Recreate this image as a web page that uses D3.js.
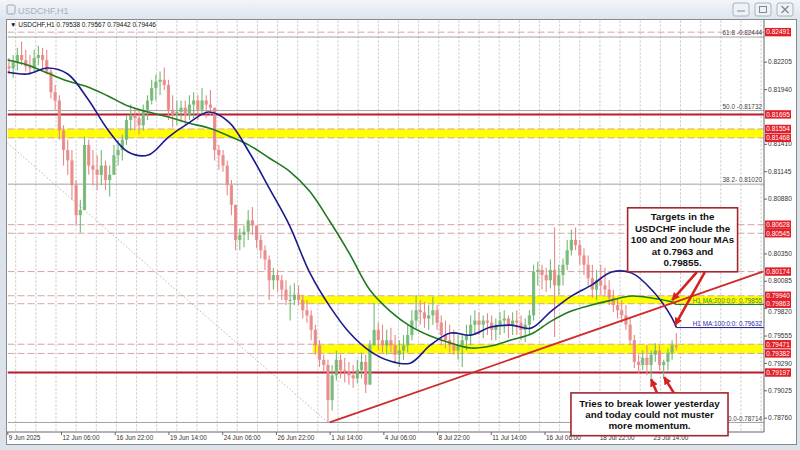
<!DOCTYPE html>
<html><head><meta charset="utf-8">
<script src="https://cdn.jsdelivr.net/npm/d3@7"></script>
<style>
body{margin:0;background:#dfe5ec;}
svg{display:block;font-family:"Liberation Sans",Arial,sans-serif;}
</style></head><body>
<svg id="c" width="800" height="450"></svg>
<script>
// ---------- DATA ----------
const windowTitle = "USDCHF,H1";
const infoText = "\u25BC USDCHF,H1  0.79538 0.79567 0.79442 0.79446";
const dateLabels = ["9 Jun 2025","12 Jun 06:00","16 Jun 22:00","19 Jun 14:00","24 Jun 06:00","26 Jun 22:00","1 Jul 14:00","4 Jul 06:00","8 Jul 22:00","11 Jul 14:00","16 Jul 06:00","18 Jul 22:00","23 Jul 14:00"];
const dateLabelBars = [0,64,128,192,256,320,384,448,512,576,640,704,768];
const priceTicks = [0.82205,0.81940,0.81410,0.81145,0.80880,0.80350,0.80085,0.79820,0.79555,0.79290,0.79025,0.78760];

const barsPerCandle = 5;
const firstOpen = 0.8216;
const candleHigh = [
0.8224,0.8227,0.8234,0.8240,0.8232,0.8227,0.8232,0.8236,0.8234,0.8232,
0.8214,0.8198,0.8188,0.8159,0.8145,0.8135,0.8106,0.8087,0.8148,0.8145,
0.8135,0.8130,0.8135,0.8125,0.8120,0.8140,0.8145,0.8150,0.8169,0.8179,
0.8176,0.8174,0.8179,0.8188,0.8203,0.8208,0.8211,0.8215,0.8203,0.8188,
0.8183,0.8183,0.8183,0.8188,0.8191,0.8188,0.8195,0.8188,0.8193,0.8176,
0.8140,0.8135,0.8125,0.8106,0.8082,0.8059,0.8062,0.8077,0.8080,0.8062,
0.8053,0.8043,0.8033,0.8021,0.8019,0.8014,0.8009,0.8004,0.8006,0.8004,
0.7995,0.7990,0.7980,0.7966,0.7951,0.7937,0.7932,0.7927,0.7941,0.7937,
0.7934,0.7930,0.7927,0.7932,0.7939,0.7937,0.7951,0.7987,0.7968,0.7966,
0.7961,0.7963,0.7956,0.7951,0.7956,0.7966,0.7980,0.7995,0.7990,0.7988,
0.7985,0.7993,0.7985,0.7975,0.7970,0.7966,0.7961,0.7956,0.7956,0.7966,
0.7975,0.7980,0.7978,0.7975,0.7977,0.7975,0.7972,0.7978,0.7980,0.7975,
0.7978,0.7980,0.7975,0.7972,0.7980,0.8024,0.8027,0.8024,0.8021,0.8029,
0.8060,0.8024,0.8030,0.8048,0.8058,0.8060,0.8048,0.8040,0.8033,0.8024,
0.8019,0.8024,0.8021,0.8009,0.8000,0.7992,0.7990,0.7985,0.7972,0.7956,
0.7937,0.7941,0.7946,0.7941,0.7948,0.7946,0.7932,0.7943,0.7951,0.7958];
const candleLow = [
0.8208,0.8205,0.8212,0.8217,0.8211,0.8208,0.8211,0.8217,0.8214,0.8208,
0.8185,0.8174,0.8145,0.8120,0.8111,0.8087,0.8062,0.8055,0.8082,0.8111,
0.8101,0.8096,0.8101,0.8096,0.8090,0.8111,0.8120,0.8125,0.8140,0.8154,
0.8154,0.8150,0.8154,0.8164,0.8179,0.8183,0.8188,0.8193,0.8164,0.8157,
0.8159,0.8162,0.8159,0.8164,0.8166,0.8164,0.8169,0.8166,0.8169,0.8125,
0.8116,0.8114,0.8091,0.8072,0.8038,0.8038,0.8041,0.8048,0.8053,0.8040,
0.8030,0.8019,0.7990,0.8000,0.7998,0.7990,0.7985,0.7970,0.7985,0.7985,
0.7972,0.7968,0.7951,0.7937,0.7925,0.7920,0.78714,0.7883,0.7912,0.7914,
0.7910,0.7908,0.7905,0.7909,0.7914,0.7900,0.7908,0.7946,0.7941,0.7939,
0.7937,0.7939,0.7930,0.7925,0.7932,0.7939,0.7951,0.7961,0.7966,0.7963,
0.7961,0.7966,0.7961,0.7946,0.7943,0.7939,0.7937,0.7932,0.7925,0.7941,
0.7946,0.7956,0.7956,0.7953,0.7956,0.7951,0.7951,0.7956,0.7958,0.7953,
0.7956,0.7956,0.7951,0.7949,0.7956,0.7970,0.8004,0.8000,0.7998,0.8001,
0.7954,0.7995,0.8004,0.8019,0.8033,0.8038,0.8024,0.8014,0.8004,0.7992,
0.7990,0.7995,0.7993,0.7985,0.7978,0.7972,0.7968,0.7961,0.7946,0.7924,
0.7919,0.7922,0.7917,0.7912,0.7930,0.7922,0.7914,0.7922,0.7932,0.7941];
const candleClose = [
0.8214,0.8220,0.8227,0.8222,0.8216,0.8214,0.8224,0.8227,0.8222,0.8211,
0.8191,0.8183,0.8154,0.8135,0.8125,0.8101,0.8072,0.8077,0.8140,0.8120,
0.8116,0.8111,0.8120,0.8106,0.8111,0.8130,0.8135,0.8145,0.8164,0.8169,
0.8166,0.8159,0.8174,0.8183,0.8195,0.8201,0.8203,0.8198,0.8174,0.8169,
0.8172,0.8176,0.8169,0.8179,0.8183,0.8174,0.8183,0.8179,0.8176,0.8135,
0.8130,0.8120,0.8101,0.8082,0.8048,0.8053,0.8056,0.8067,0.8062,0.8048,
0.8038,0.8029,0.8009,0.8014,0.8009,0.8000,0.7990,0.7990,0.7995,0.7990,
0.7980,0.7975,0.7961,0.7946,0.7932,0.7927,0.7893,0.7917,0.7932,0.7922,
0.7920,0.7917,0.7914,0.7922,0.7930,0.7908,0.7946,0.7961,0.7951,0.7946,
0.7951,0.7946,0.7937,0.7941,0.7946,0.7956,0.7970,0.7980,0.7978,0.7972,
0.7975,0.7980,0.7968,0.7956,0.7951,0.7946,0.7941,0.7946,0.7951,0.7956,
0.7966,0.7970,0.7966,0.7970,0.7968,0.7961,0.7966,0.7970,0.7972,0.7966,
0.7970,0.7968,0.7961,0.7966,0.7975,0.8017,0.8019,0.8014,0.8009,0.8019,
0.8004,0.8014,0.8024,0.8038,0.8048,0.8043,0.8033,0.8024,0.8011,0.8000,
0.8009,0.8004,0.8000,0.7992,0.7985,0.7980,0.7975,0.7966,0.7951,0.7930,
0.7927,0.7934,0.7927,0.7937,0.7941,0.7927,0.7930,0.7939,0.7946,0.79446];

// moving averages sampled once a day (every 24 bars) + last bar
const maBars = [0,24,48,72,96,120,144,168,192,216,240,264,288,312,336,360,384,408,432,456,480,504,528,552,576,600,624,648,672,696,720,744,768,792,797];
const ma100 = [0.82105,0.82086,0.82144,0.82086,0.81844,0.81544,0.81331,0.81302,0.81476,0.81611,0.81718,0.81621,0.81331,0.80982,0.80624,0.80169,0.79840,0.79579,0.79404,0.79308,0.79288,0.79462,0.79579,0.79559,0.79637,0.79656,0.79627,0.79792,0.79937,0.80043,0.80169,0.80159,0.79995,0.79724,0.79632];
const ma200 = [0.82221,0.82173,0.82095,0.82018,0.81960,0.81873,0.81776,0.81718,0.81670,0.81611,0.81563,0.81486,0.81398,0.81273,0.81147,0.80953,0.80663,0.80343,0.79995,0.79792,0.79646,0.79550,0.79482,0.79434,0.79453,0.79511,0.79569,0.79695,0.79792,0.79850,0.79898,0.79937,0.79917,0.79879,0.79855];
const ma100Label = "H1 MA:100:0:0: 0.79632";
const ma200Label = "H1 MA:200:0:0: 0.79855";

const redLevels = [0.81695, 0.79197];
const dashedLevels = [0.82491, 0.80628, 0.80545, 0.80174, 0.81554, 0.81468, 0.79940, 0.79863, 0.79471, 0.79382];
const boxLevels = [0.82491,0.81695,0.81554,0.81468,0.80628,0.80545,0.80174,0.79940,0.79863,0.79471,0.79382,0.79197];
const bandTop = [0.81554, 0.79940, 0.79471];
const bandBottom = [0.81468, 0.79863, 0.79382];
const bandStartBar = [0, 349, 364];
const fibPrices = [0.82444, 0.81732, 0.81020, 0.78714];
const fibTexts = ["61.8 -0.82444", "50.0 -0.81732", "38.2- 0.81020", "0.0-0.78714"];
const fibDiagonal = [[0, 0.8142], [382, 0.78714]];
const trendLine = [[384, 0.78714], [900, 0.80174]];

const topNote = ["Targets in the","USDCHF include the","100 and 200 hour MAs","at 0.7963 and","0.79855."];
const topNoteBox = {bars:[739, 870], prices:[0.80791, 0.80172]};
const topArrows = [[[821.5,0.80169],[792,0.79898]], [[831,0.80169],[795.5,0.79656]]];
const bottomNote = ["Tries to break lower yesterday","and today could not muster","more momentum."];
const bottomNoteBox = {bars:[671.5, 858.6], prices:[0.79000, 0.78586]};
const bottomArrows = [[[774,0.79000],[767,0.79133]], [[794,0.79000],[782.5,0.79153]]];

// ---------- SCALES ----------
const svg = d3.select("#c");
const PL = 7.5, PR = 764, PT = 20.5, PB = 432;
const x = d3.scaleLinear().domain([0, 900]).range([7.3, 7.3 + 900 * 0.8394]);
const y = d3.scaleLinear().domain([0.78760, 0.82205]).range([417.7, 61.7]);

// ---------- WINDOW CHROME ----------
const defs = svg.append("defs");
const tg = defs.append("linearGradient").attr("id","tb").attr("x1",0).attr("y1",0).attr("x2",0).attr("y2",1);
tg.append("stop").attr("offset","0%").attr("stop-color","#f2f5f9");
tg.append("stop").attr("offset","100%").attr("stop-color","#dde5ee");
svg.append("rect").attr("width",800).attr("height",450).attr("fill","#dbe2ea");
svg.append("rect").attr("width",800).attr("height",20).attr("fill","url(#tb)");
svg.append("rect").attr("x",7).attr("y",5).attr("width",8).attr("height",9).attr("rx",1.5).attr("fill","none").attr("stroke","#9aa6b2");
svg.append("text").attr("x",18).attr("y",14).attr("font-size",9).attr("fill","#a7b0ba").text(windowTitle);
const btnX = [733, 755, 777];
btnX.forEach((bx,i)=>{
  svg.append("rect").attr("x",bx).attr("y",3).attr("width",16).attr("height",13).attr("rx",2).attr("fill","#eef2f6").attr("stroke","#a9b4bf");
});
svg.append("line").attr("x1",737).attr("x2",745).attr("y1",11).attr("y2",11).attr("stroke","#7d8894");
svg.append("rect").attr("x",759.5).attr("y",6.5).attr("width",7).attr("height",6).attr("fill","none").attr("stroke","#7d8894");
svg.append("path").attr("d","M781.5,6L788.5,13M788.5,6L781.5,13").attr("stroke","#7d8894").attr("stroke-width",1.3);

svg.append("rect").attr("x",6.5).attr("y",19.5).attr("width",790).attr("height",425).attr("fill","#fff").attr("stroke","#8a8a8a");

defs.append("clipPath").attr("id","plot").append("rect").attr("x",PL).attr("y",PT).attr("width",PR-PL).attr("height",PB-PT);
const g = svg.append("g").attr("clip-path","url(#plot)");

// vertical day grid
const gridBars = d3.range(10, 901, 24);
g.selectAll("line.vg").data(gridBars).join("line")
  .attr("x1",d=>x(d)).attr("x2",d=>x(d)).attr("y1",PT).attr("y2",PB)
  .attr("stroke","#b4b4b4").attr("stroke-dasharray","2,2").attr("stroke-width",0.8);

// yellow bands
g.selectAll("rect.band").data(bandTop).join("rect")
  .attr("x",(d,i)=>x(bandStartBar[i])).attr("width",(d,i)=>x(900)-x(bandStartBar[i]))
  .attr("y",d=>y(d)).attr("height",(d,i)=>y(bandBottom[i])-y(d)).attr("fill","#ffff00");

// dashed levels
g.selectAll("line.dl").data(dashedLevels).join("line")
  .attr("x1",PL).attr("x2",PR).attr("y1",d=>y(d)).attr("y2",d=>y(d))
  .attr("stroke","#d7a3a3").attr("stroke-dasharray","7,3").attr("stroke-width",1);

// fib lines
g.selectAll("line.fib").data(fibPrices).join("line")
  .attr("x1",PL).attr("x2",PR).attr("y1",d=>y(d)).attr("y2",d=>y(d))
  .attr("stroke","#a2a2a2").attr("stroke-width",1);
g.append("line").attr("x1",x(fibDiagonal[0][0])).attr("y1",y(fibDiagonal[0][1]))
  .attr("x2",x(fibDiagonal[1][0])).attr("y2",y(fibDiagonal[1][1]))
  .attr("stroke","#b0b0b0").attr("stroke-dasharray","1.5,2").attr("stroke-width",0.9);

// red solid levels
g.selectAll("line.rl").data(redLevels).join("line")
  .attr("x1",PL).attr("x2",PR).attr("y1",d=>y(d)).attr("y2",d=>y(d))
  .attr("stroke","#b81c2c").attr("stroke-width",2);

// candles
const candles = candleClose.map((c,k)=>({i:k*barsPerCandle+2, o:k?candleClose[k-1]:firstOpen, h:candleHigh[k], l:candleLow[k], c}));
const upC = "#74b874", dnC = "#e88888";
g.selectAll("line.wick").data(candles).join("line")
  .attr("x1",d=>x(d.i)).attr("x2",d=>x(d.i))
  .attr("y1",d=>y(Math.max(d.h,d.o,d.c))).attr("y2",d=>y(Math.min(d.l,d.o,d.c)))
  .attr("stroke",d=>d.c>=d.o?upC:dnC).attr("stroke-width",1.1);
g.selectAll("rect.body").data(candles).join("rect")
  .attr("x",d=>x(d.i)-1.6).attr("width",3.2)
  .attr("y",d=>y(Math.max(d.o,d.c))).attr("height",d=>Math.max(1,Math.abs(y(d.o)-y(d.c))))
  .attr("fill",d=>d.c>=d.o?upC:dnC).attr("opacity",0.9);

// moving averages
const maLine = d3.line().x((d,i)=>x(maBars[i])).y(d=>y(d)).curve(d3.curveCatmullRom);
g.append("path").attr("d",maLine(ma200)).attr("fill","none").attr("stroke","#1f7a1f").attr("stroke-width",1.6);
g.append("path").attr("d",maLine(ma100)).attr("fill","none").attr("stroke","#1a1a8c").attr("stroke-width",1.6);
const lastBar = maBars[maBars.length-1];
g.append("line").attr("x1",x(lastBar)).attr("x2",PR).attr("y1",y(ma200[ma200.length-1])).attr("y2",y(ma200[ma200.length-1])).attr("stroke","#1f7a1f").attr("stroke-width",1);
g.append("line").attr("x1",x(lastBar)).attr("x2",PR).attr("y1",y(ma100[ma100.length-1])).attr("y2",y(ma100[ma100.length-1])).attr("stroke","#1a1a8c").attr("stroke-width",1);

// trend line
g.append("line").attr("x1",x(trendLine[0][0])).attr("y1",y(trendLine[0][1]))
  .attr("x2",x(trendLine[1][0])).attr("y2",y(trendLine[1][1]))
  .attr("stroke","#cf2a2a").attr("stroke-width",1.8);

// labels inside plot
const lab = svg.append("g").attr("font-size",6.4);
lab.selectAll("text.fib").data(fibPrices).join("text")
  .attr("x",762).attr("y",d=>y(d)-1.8).attr("text-anchor","end").attr("fill","#444").text((d,i)=>fibTexts[i]);
lab.append("text").attr("x",762).attr("y",y(ma200[ma200.length-1])-1.5).attr("text-anchor","end").attr("fill","#2f8a2f").text(ma200Label);
lab.append("text").attr("x",762).attr("y",y(ma100[ma100.length-1])-1.8).attr("text-anchor","end").attr("fill","#2a2aa0").text(ma100Label);
svg.append("text").attr("x",10).attr("y",27).attr("font-size",6.5).attr("fill","#111").text(infoText);

// axes frame
svg.append("line").attr("x1",PR).attr("x2",PR).attr("y1",20).attr("y2",PB).attr("stroke","#666");
svg.append("line").attr("x1",7).attr("x2",PR).attr("y1",PB).attr("y2",PB).attr("stroke","#666");

// right price axis
const ya = d3.axisRight(y).tickValues(priceTicks).tickSize(3).tickFormat(d3.format(".5f"));
const yg = svg.append("g").attr("transform",`translate(${PR},0)`).call(ya);
yg.select(".domain").remove();
yg.selectAll("line").attr("stroke","#666");
yg.selectAll("text").attr("x",4).attr("font-size",6.6).attr("fill","#333").attr("font-family","Liberation Sans, Arial, sans-serif");
// label that sits right under a level box: nudge below it
yg.selectAll("text").filter(d=>Math.abs(d-0.79820)<1e-6).attr("dy","0.75em");

// bottom date axis
const xa = d3.axisBottom(x).tickValues(dateLabelBars).tickSize(3).tickFormat((d,i)=>dateLabels[i]);
const xg = svg.append("g").attr("transform",`translate(0,${PB})`).call(xa);
xg.select(".domain").remove();
xg.selectAll("line").attr("stroke","#666");
xg.selectAll("text").attr("text-anchor","start").attr("x",1).attr("y",3.6).attr("font-size",6.4).attr("fill","#333").attr("font-family","Liberation Sans, Arial, sans-serif");

// red price boxes
const bx = svg.append("g");
bx.selectAll("rect").data(boxLevels).join("rect")
  .attr("x",PR+1).attr("width",26).attr("y",d=>y(d)-4.2).attr("height",8.4).attr("fill","#e3202a");
bx.selectAll("text").data(boxLevels).join("text")
  .attr("x",PR+14).attr("y",d=>y(d)).attr("dy","0.35em").attr("text-anchor","middle")
  .attr("font-size",6.5).attr("fill","#fff").text(d=>d3.format(".5f")(d));

// annotations
const mk = defs.append("marker").attr("id","ah").attr("viewBox","0 0 10 10").attr("refX",9).attr("refY",5)
  .attr("markerWidth",9).attr("markerHeight",8).attr("markerUnits","userSpaceOnUse").attr("orient","auto");
mk.append("path").attr("d","M0,0L10,5L0,10Z").attr("fill","#d42222");
const ann = svg.append("g");
function arrows(list){
  ann.selectAll(null).data(list).join("line")
    .attr("x1",d=>x(d[0][0])).attr("y1",d=>y(d[0][1])).attr("x2",d=>x(d[1][0])).attr("y2",d=>y(d[1][1]))
    .attr("stroke","#d42222").attr("stroke-width",2.6).attr("marker-end","url(#ah)");
}
function note(lines, box, lh){
  const x0=x(box.bars[0]), x1=x(box.bars[1]), y0=y(box.prices[0]), y1=y(box.prices[1]);
  ann.append("rect").attr("x",x0).attr("y",y0).attr("width",x1-x0).attr("height",y1-y0)
    .attr("fill","#fff").attr("stroke","#a3262e").attr("stroke-width",1.6);
  const cy=(y0+y1)/2, cx=(x0+x1)/2;
  ann.selectAll(null).data(lines).join("text")
    .attr("x",cx).attr("y",(d,i)=>cy+(i-(lines.length-1)/2)*lh).attr("dy","0.35em")
    .attr("text-anchor","middle").attr("font-weight","bold").attr("font-size",9.8).attr("fill","#111").text(d=>d);
}
arrows(topArrows);
arrows(bottomArrows);
note(topNote, topNoteBox, 11.6);
note(bottomNote, bottomNoteBox, 11.2);
</script>
</body></html>
